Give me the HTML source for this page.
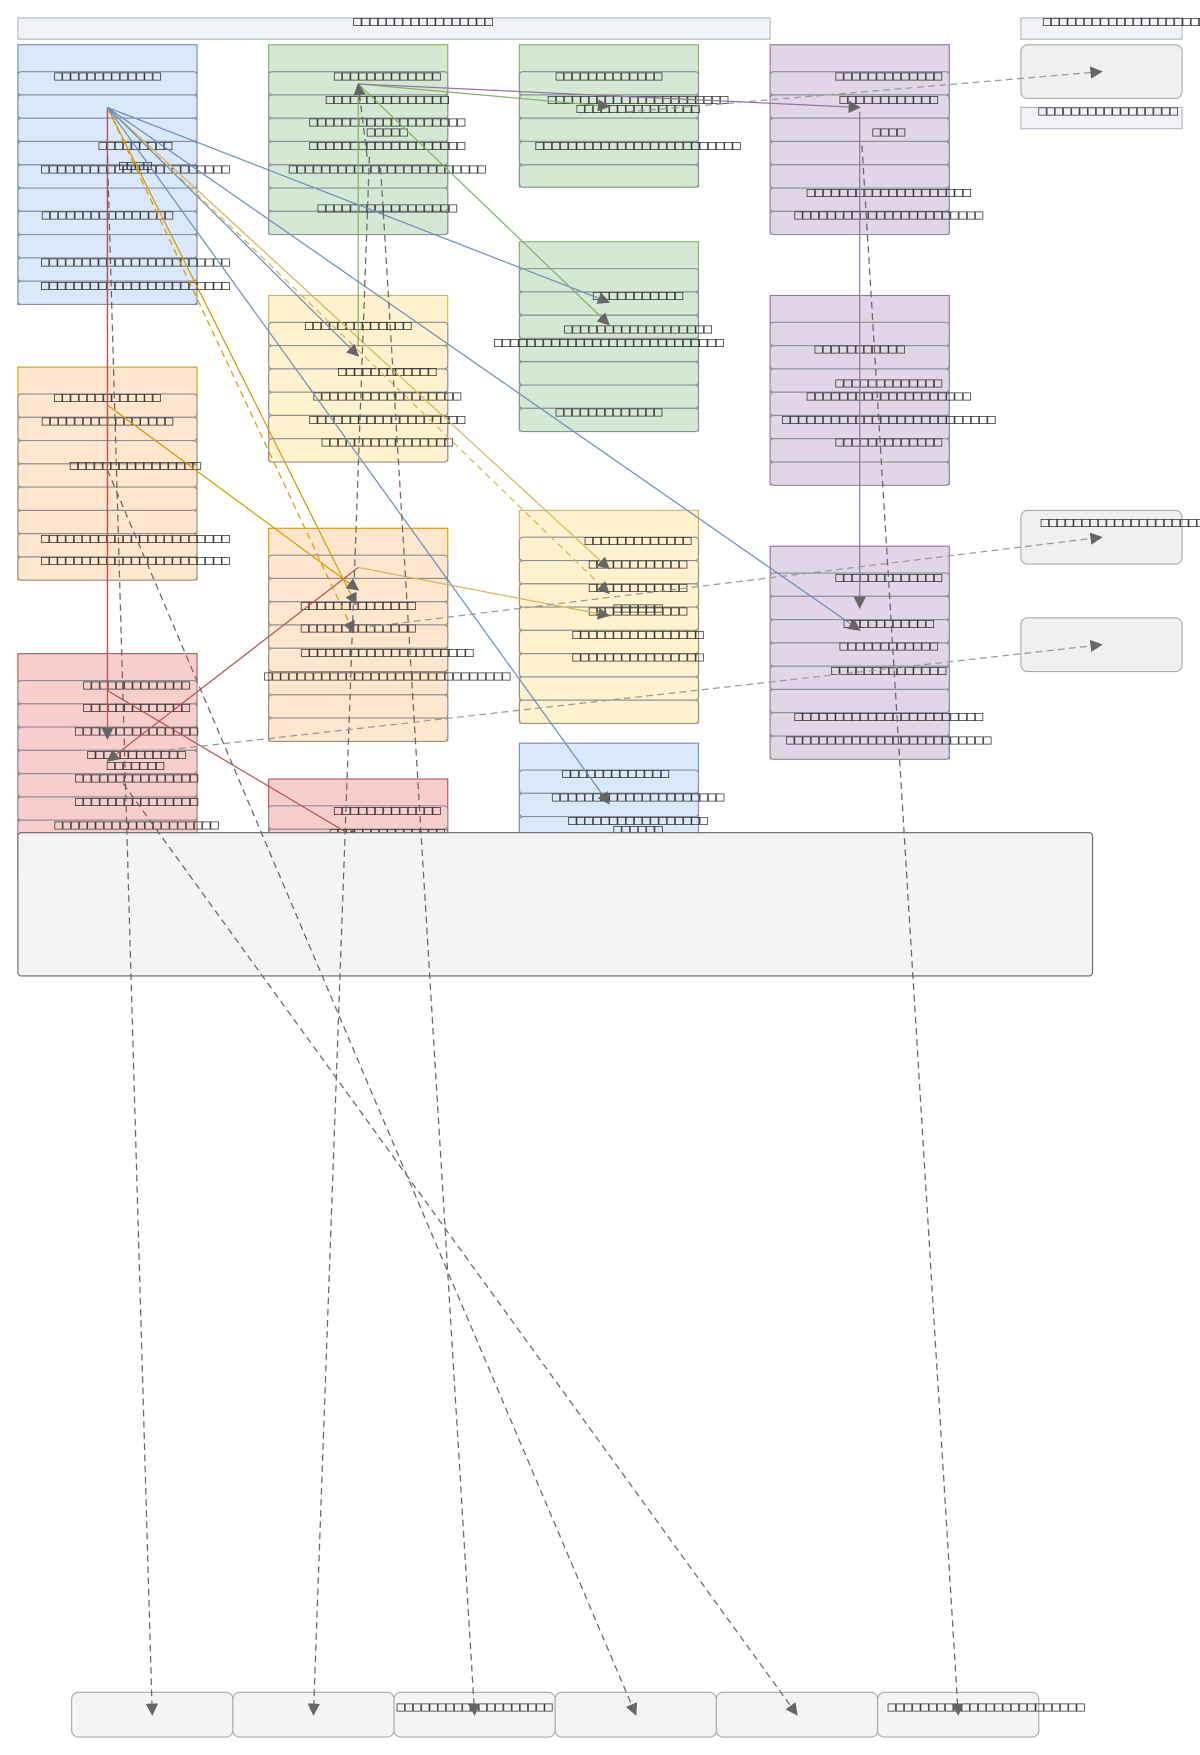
<!DOCTYPE html>
<html><head><meta charset="utf-8"><style>
html,body{margin:0;padding:0;background:#fff;}
svg{display:block}
text{font-family:"DejaVu Sans Mono","Liberation Mono",monospace;font-size:12.2px;fill:#333;text-anchor:middle;dominant-baseline:central;}
</style></head><body>
<svg width="1200" height="1755" viewBox="0 0 1072 1568" preserveAspectRatio="none" xmlns="http://www.w3.org/2000/svg">
<defs>
<marker id="ag" viewBox="0 0 10 10" refX="9" refY="5" markerWidth="11" markerHeight="11" markerUnits="userSpaceOnUse" orient="auto"><path d="M0,0L10,5L0,10z" fill="#666"/></marker>
</defs>

<!-- title / legend -->
<rect x="16" y="16" width="672" height="19" fill="#f1f3f6" stroke="#b0b8c4"/>
<text x="378" y="19">□□□□□□□□□□□□□□□□□</text>
<rect x="912" y="16" width="144" height="19" fill="#f1f3f6" stroke="#b0b8c4"/>
<text x="1005" y="19">□□□□□□□□□□□□□□□□□□□□</text>
<rect x="912" y="40" width="144" height="48" rx="6" fill="#f0f0f0" stroke="#aaa"/>
<rect x="912" y="96" width="144" height="19" fill="#f1f3f6" stroke="#b0b8c4"/>
<text x="990" y="99">□□□□□□□□□□□□□□□□□</text>

<!-- right boxes -->
<rect x="912" y="456" width="144" height="48" rx="6" fill="#f0f0f0" stroke="#aaa"/>
<text x="1003" y="467">□□□□□□□□□□□□□□□□□□□□</text>
<rect x="912" y="552" width="144" height="48" rx="6" fill="#f0f0f0" stroke="#aaa"/>

<!-- containers -->
<g stroke-width="1">
<!-- blue1 -->
<rect x="16" y="40" width="160" height="232" fill="#dae8fc" stroke="#6c8ebf"/>
<g fill="#dae8fc" stroke="#8a8f98">
<rect x="16" y="64" width="160" height="20.8" rx="3"/><rect x="16" y="84.8" width="160" height="20.8" rx="3"/><rect x="16" y="105.6" width="160" height="20.8" rx="3"/><rect x="16" y="126.4" width="160" height="20.8" rx="3"/><rect x="16" y="147.2" width="160" height="20.8" rx="3"/><rect x="16" y="168" width="160" height="20.8" rx="3"/><rect x="16" y="188.8" width="160" height="20.8" rx="3"/><rect x="16" y="209.6" width="160" height="20.8" rx="3"/><rect x="16" y="230.4" width="160" height="20.8" rx="3"/><rect x="16" y="251.2" width="160" height="20.8" rx="3"/>
</g>
<!-- green1 -->
<rect x="240" y="40" width="160" height="169" fill="#d5e8d4" stroke="#82b366"/>
<g fill="#d5e8d4" stroke="#8a8f98">
<rect x="240" y="64" width="160" height="20.8" rx="3"/><rect x="240" y="84.8" width="160" height="20.8" rx="3"/><rect x="240" y="105.6" width="160" height="20.8" rx="3"/><rect x="240" y="126.4" width="160" height="20.8" rx="3"/><rect x="240" y="147.2" width="160" height="20.8" rx="3"/><rect x="240" y="168" width="160" height="20.8" rx="3"/><rect x="240" y="188.8" width="160" height="20.8" rx="3"/>
</g>
<!-- green2 -->
<rect x="464" y="40" width="160" height="127" fill="#d5e8d4" stroke="#82b366"/>
<g fill="#d5e8d4" stroke="#8a8f98">
<rect x="464" y="64" width="160" height="20.8" rx="3"/><rect x="464" y="84.8" width="160" height="20.8" rx="3"/><rect x="464" y="105.6" width="160" height="20.8" rx="3"/><rect x="464" y="126.4" width="160" height="20.8" rx="3"/><rect x="464" y="147.2" width="160" height="20" rx="3"/>
</g>
<!-- purple1 -->
<rect x="688" y="40" width="160" height="169" fill="#e1d5e7" stroke="#9673a6"/>
<g fill="#e1d5e7" stroke="#8a8f98">
<rect x="688" y="64" width="160" height="20.8" rx="3"/><rect x="688" y="84.8" width="160" height="20.8" rx="3"/><rect x="688" y="105.6" width="160" height="20.8" rx="3"/><rect x="688" y="126.4" width="160" height="20.8" rx="3"/><rect x="688" y="147.2" width="160" height="20.8" rx="3"/><rect x="688" y="168" width="160" height="20.8" rx="3"/><rect x="688" y="188.8" width="160" height="20.8" rx="3"/>
</g>
<!-- green3 -->
<rect x="464" y="216" width="160" height="169" fill="#d5e8d4" stroke="#82b366"/>
<g fill="#d5e8d4" stroke="#8a8f98">
<rect x="464" y="240" width="160" height="20.8" rx="3"/><rect x="464" y="260.8" width="160" height="20.8" rx="3"/><rect x="464" y="281.6" width="160" height="20.8" rx="3"/><rect x="464" y="302.4" width="160" height="20.8" rx="3"/><rect x="464" y="323.2" width="160" height="20.8" rx="3"/><rect x="464" y="344" width="160" height="20.8" rx="3"/><rect x="464" y="364.8" width="160" height="20.8" rx="3"/>
</g>
<!-- yellow1 -->
<rect x="240" y="264" width="160" height="148" fill="#fff2cc" stroke="#d6b656"/>
<g fill="#fff2cc" stroke="#8a8f98">
<rect x="240" y="288" width="160" height="20.8" rx="3"/><rect x="240" y="308.8" width="160" height="20.8" rx="3"/><rect x="240" y="329.6" width="160" height="20.8" rx="3"/><rect x="240" y="350.4" width="160" height="20.8" rx="3"/><rect x="240" y="371.2" width="160" height="20.8" rx="3"/><rect x="240" y="392" width="160" height="20.8" rx="3"/>
</g>
<!-- purple2 -->
<rect x="688" y="264" width="160" height="169" fill="#e1d5e7" stroke="#9673a6"/>
<g fill="#e1d5e7" stroke="#8a8f98">
<rect x="688" y="288" width="160" height="20.8" rx="3"/><rect x="688" y="308.8" width="160" height="20.8" rx="3"/><rect x="688" y="329.6" width="160" height="20.8" rx="3"/><rect x="688" y="350.4" width="160" height="20.8" rx="3"/><rect x="688" y="371.2" width="160" height="20.8" rx="3"/><rect x="688" y="392" width="160" height="20.8" rx="3"/><rect x="688" y="412.8" width="160" height="20.8" rx="3"/>
</g>
<!-- orange1 -->
<rect x="16" y="328" width="160" height="190" fill="#ffe6cc" stroke="#d79b00"/>
<g fill="#ffe6cc" stroke="#8a8f98">
<rect x="16" y="352" width="160" height="20.8" rx="3"/><rect x="16" y="372.8" width="160" height="20.8" rx="3"/><rect x="16" y="393.6" width="160" height="20.8" rx="3"/><rect x="16" y="414.4" width="160" height="20.8" rx="3"/><rect x="16" y="435.2" width="160" height="20.8" rx="3"/><rect x="16" y="456" width="160" height="20.8" rx="3"/><rect x="16" y="476.8" width="160" height="20.8" rx="3"/><rect x="16" y="497.6" width="160" height="20.8" rx="3"/>
</g>
<!-- orange2 -->
<rect x="240" y="472" width="160" height="190" fill="#ffe6cc" stroke="#d79b00"/>
<g fill="#ffe6cc" stroke="#8a8f98">
<rect x="240" y="496" width="160" height="20.8" rx="3"/><rect x="240" y="516.8" width="160" height="20.8" rx="3"/><rect x="240" y="537.6" width="160" height="20.8" rx="3"/><rect x="240" y="558.4" width="160" height="20.8" rx="3"/><rect x="240" y="579.2" width="160" height="20.8" rx="3"/><rect x="240" y="600" width="160" height="20.8" rx="3"/><rect x="240" y="620.8" width="160" height="20.8" rx="3"/><rect x="240" y="641.6" width="160" height="20.8" rx="3"/>
</g>
<!-- yellow2 -->
<rect x="464" y="456" width="160" height="190" fill="#fff2cc" stroke="#d6b656"/>
<g fill="#fff2cc" stroke="#8a8f98">
<rect x="464" y="480" width="160" height="20.8" rx="3"/><rect x="464" y="500.8" width="160" height="20.8" rx="3"/><rect x="464" y="521.6" width="160" height="20.8" rx="3"/><rect x="464" y="542.4" width="160" height="20.8" rx="3"/><rect x="464" y="563.2" width="160" height="20.8" rx="3"/><rect x="464" y="584" width="160" height="20.8" rx="3"/><rect x="464" y="604.8" width="160" height="20.8" rx="3"/><rect x="464" y="625.6" width="160" height="20.8" rx="3"/>
</g>
<!-- purple3 -->
<rect x="688" y="488" width="160" height="190" fill="#e1d5e7" stroke="#9673a6"/>
<g fill="#e1d5e7" stroke="#8a8f98">
<rect x="688" y="512" width="160" height="20.8" rx="3"/><rect x="688" y="532.8" width="160" height="20.8" rx="3"/><rect x="688" y="553.6" width="160" height="20.8" rx="3"/><rect x="688" y="574.4" width="160" height="20.8" rx="3"/><rect x="688" y="595.2" width="160" height="20.8" rx="3"/><rect x="688" y="616" width="160" height="20.8" rx="3"/><rect x="688" y="636.8" width="160" height="20.8" rx="3"/><rect x="688" y="657.6" width="160" height="20.8" rx="3"/>
</g>
<!-- red1 -->
<rect x="16" y="584" width="160" height="200" fill="#f8cecc" stroke="#b85450"/>
<g fill="#f8cecc" stroke="#8a8f98">
<rect x="16" y="608" width="160" height="20.8" rx="3"/><rect x="16" y="628.8" width="160" height="20.8" rx="3"/><rect x="16" y="649.6" width="160" height="20.8" rx="3"/><rect x="16" y="670.4" width="160" height="20.8" rx="3"/><rect x="16" y="691.2" width="160" height="20.8" rx="3"/><rect x="16" y="712" width="160" height="20.8" rx="3"/><rect x="16" y="732.8" width="160" height="20.8" rx="3"/>
</g>
<!-- red2 -->
<rect x="240" y="696" width="160" height="80" fill="#f8cecc" stroke="#b85450"/>
<g fill="#f8cecc" stroke="#8a8f98">
<rect x="240" y="720" width="160" height="20.8" rx="3"/><rect x="240" y="740.8" width="160" height="20.8" rx="3"/>
</g>
<!-- blue2 -->
<rect x="464" y="664" width="160" height="100" fill="#dae8fc" stroke="#6c8ebf"/>
<g fill="#dae8fc" stroke="#8a8f98">
<rect x="464" y="688" width="160" height="20.8" rx="3"/><rect x="464" y="708.8" width="160" height="20.8" rx="3"/><rect x="464" y="729.6" width="160" height="20.8" rx="3"/>
</g>
</g>

<!-- labels -->
<text x="96" y="68">□□□□□□□□□□□□□</text>
<text x="121" y="130">□□□□□□□□□</text>
<text x="121" y="151">□□□□□□□□□□□□□□□□□□□□□□□</text>
<text x="121" y="148">□□□□</text>
<text x="96" y="192">□□□□□□□□□□□□□□□□</text>
<text x="121" y="234">□□□□□□□□□□□□□□□□□□□□□□□</text>
<text x="121" y="255">□□□□□□□□□□□□□□□□□□□□□□□</text>

<text x="346" y="68">□□□□□□□□□□□□□</text>
<text x="346" y="89">□□□□□□□□□□□□□□□</text>
<text x="346" y="109">□□□□□□□□□□□□□□□□□□□</text>
<text x="346" y="118">□□□□□</text>
<text x="346" y="130">□□□□□□□□□□□□□□□□□□□</text>
<text x="346" y="151">□□□□□□□□□□□□□□□□□□□□□□□□</text>
<text x="346" y="186">□□□□□□□□□□□□□□□□□</text>

<text x="544" y="68">□□□□□□□□□□□□□</text>
<text x="570" y="89">□□□□□□□□□□□□□□□□□□□□□□</text>
<text x="570" y="97">□□□□□□□□□□□□□□□</text>
<text x="570" y="130">□□□□□□□□□□□□□□□□□□□□□□□□□</text>

<text x="794" y="68">□□□□□□□□□□□□□</text>
<text x="794" y="89">□□□□□□□□□□□□</text>
<text x="794" y="118">□□□□</text>
<text x="794" y="172">□□□□□□□□□□□□□□□□□□□□</text>
<text x="794" y="192">□□□□□□□□□□□□□□□□□□□□□□□</text>

<text x="570" y="264">□□□□□□□□□□□</text>
<text x="570" y="294">□□□□□□□□□□□□□□□□□□</text>
<text x="544" y="306">□□□□□□□□□□□□□□□□□□□□□□□□□□□□</text>
<text x="544" y="368">□□□□□□□□□□□□□</text>

<text x="320" y="291">□□□□□□□□□□□□□</text>
<text x="346" y="332">□□□□□□□□□□□□</text>
<text x="346" y="354">□□□□□□□□□□□□□□□□□□</text>
<text x="346" y="375">□□□□□□□□□□□□□□□□□□□</text>
<text x="346" y="395">□□□□□□□□□□□□□□□□</text>

<text x="768" y="312">□□□□□□□□□□□</text>
<text x="794" y="342">□□□□□□□□□□□□□</text>
<text x="794" y="354">□□□□□□□□□□□□□□□□□□□□</text>
<text x="794" y="375">□□□□□□□□□□□□□□□□□□□□□□□□□□</text>
<text x="794" y="395">□□□□□□□□□□□□□</text>

<text x="96" y="355">□□□□□□□□□□□□□</text>
<text x="96" y="376">□□□□□□□□□□□□□□□□</text>
<text x="121" y="416">□□□□□□□□□□□□□□□□</text>
<text x="121" y="481">□□□□□□□□□□□□□□□□□□□□□□□</text>
<text x="121" y="501">□□□□□□□□□□□□□□□□□□□□□□□</text>

<text x="570" y="483">□□□□□□□□□□□□□</text>
<text x="570" y="504">□□□□□□□□□□□□</text>
<text x="570" y="525">□□□□□□□□□□□□</text>
<text x="570" y="546">□□□□□□□□□□□□</text>
<text x="570" y="543">□□□□□□</text>
<text x="570" y="567">□□□□□□□□□□□□□□□□</text>
<text x="570" y="587">□□□□□□□□□□□□□□□□</text>

<text x="320" y="541">□□□□□□□□□□□□□□</text>
<text x="320" y="561">□□□□□□□□□□□□□□</text>
<text x="346" y="583">□□□□□□□□□□□□□□□□□□□□□</text>
<text x="346" y="604">□□□□□□□□□□□□□□□□□□□□□□□□□□□□□□</text>

<text x="794" y="516">□□□□□□□□□□□□□</text>
<text x="794" y="557">□□□□□□□□□□□</text>
<text x="794" y="577">□□□□□□□□□□□□</text>
<text x="794" y="599">□□□□□□□□□□□□□□</text>
<text x="794" y="640">□□□□□□□□□□□□□□□□□□□□□□□</text>
<text x="794" y="661">□□□□□□□□□□□□□□□□□□□□□□□□□</text>

<text x="122" y="612">□□□□□□□□□□□□□</text>
<text x="122" y="632">□□□□□□□□□□□□□</text>
<text x="122" y="653">□□□□□□□□□□□□□□□</text>
<text x="122" y="674">□□□□□□□□□□□□</text>
<text x="121" y="684">□□□□□□□</text>
<text x="122" y="695">□□□□□□□□□□□□□□□</text>
<text x="122" y="716">□□□□□□□□□□□□□□□</text>
<text x="122" y="737">□□□□□□□□□□□□□□□□□□□□</text>

<text x="346" y="724">□□□□□□□□□□□□□</text>
<text x="346" y="744">□□□□□□□□□□□□□□</text>

<text x="550" y="691">□□□□□□□□□□□□□</text>
<text x="570" y="712">□□□□□□□□□□□□□□□□□□□□□</text>
<text x="570" y="733">□□□□□□□□□□□□□□□□□</text>
<text x="570" y="741">□□□□□□</text>

<!-- edges (solid) -->
<g fill="none" stroke-width="1.1">
<path d="M96,96 L96,617 L320,750" stroke="#b85450" marker-end="url(#ag)"/>
<path d="M320,507 L96,680" stroke="#b85450" marker-end="url(#ag)"/>
<path d="M96,96 L96,660" stroke="#b85450" marker-end="url(#ag)"/>
<path d="M96,96 L318,540" stroke="#d79b00" marker-end="url(#ag)"/>
<path d="M96,96 L316,565" stroke="#d79b00" stroke-dasharray="6,4" marker-end="url(#ag)"/>
<path d="M96,362 L320,527" stroke="#d79b00" marker-end="url(#ag)"/>
<path d="M96,96 L544,508" stroke="#d6b656" marker-end="url(#ag)"/>
<path d="M96,96 L544,530" stroke="#d6b656" stroke-dasharray="6,4" marker-end="url(#ag)"/>
<path d="M320,507 L544,550" stroke="#d6b656" marker-end="url(#ag)"/>
<path d="M96,96 L320,318" stroke="#6c8ebf" marker-end="url(#ag)"/>
<path d="M96,96 L544,270" stroke="#6c8ebf" marker-end="url(#ag)"/>
<path d="M96,96 L768,563" stroke="#6c8ebf" marker-end="url(#ag)"/>
<path d="M96,96 L544,718" stroke="#6c8ebf" marker-end="url(#ag)"/>
<path d="M320,75 L320,310" stroke="#82b366"/>
<path d="M320,75 L544,95" stroke="#82b366" marker-end="url(#ag)"/>
<path d="M320,75 L544,290" stroke="#82b366" marker-end="url(#ag)"/>
<path d="M320,75 L768,96" stroke="#9673a6" marker-end="url(#ag)"/>
<path d="M768,100 L768,543" stroke="#9673a6" marker-end="url(#ag)"/>
<path d="M328,140 L320,75" stroke="#666" stroke-dasharray="6,4" marker-end="url(#ag)"/>
</g>

<!-- big box -->
<rect x="16" y="744" width="960" height="128" rx="3" fill="#f4f4f4" stroke="#666"/>

<!-- bottom boxes -->
<g fill="#f4f4f4" stroke="#aaa">
<rect x="64" y="1512" width="144" height="40" rx="6"/>
<rect x="208" y="1512" width="144" height="40" rx="6"/>
<rect x="352" y="1512" width="144" height="40" rx="6"/>
<rect x="496" y="1512" width="144" height="40" rx="6"/>
<rect x="640" y="1512" width="144" height="40" rx="6"/>
<rect x="784" y="1512" width="144" height="40" rx="6"/>
</g>
<text x="424" y="1525">□□□□□□□□□□□□□□□□□□□</text>
<text x="881" y="1525">□□□□□□□□□□□□□□□□□□□□□□□□</text>

<!-- dashed gray edges -->
<g fill="none" stroke="#666" stroke-width="1.1" stroke-dasharray="6,4">
<path d="M96,140 L136,1532" marker-end="url(#ag)"/>
<path d="M330,140 L280,1532" marker-end="url(#ag)"/>
<path d="M340,150 L424,1532" marker-end="url(#ag)"/>
<path d="M96,420 L568,1532" marker-end="url(#ag)"/>
<path d="M110,700 L712,1532" marker-end="url(#ag)"/>
<path d="M770,130 L856,1532" marker-end="url(#ag)"/>
</g>
<g fill="none" stroke="#999" stroke-width="1.1" stroke-dasharray="6,4">
<path d="M330,560 L984,480" marker-end="url(#ag)"/>
<path d="M150,670 L984,576" marker-end="url(#ag)"/>
<path d="M560,100 L984,64" marker-end="url(#ag)"/>
</g>
</svg>
</body></html>
